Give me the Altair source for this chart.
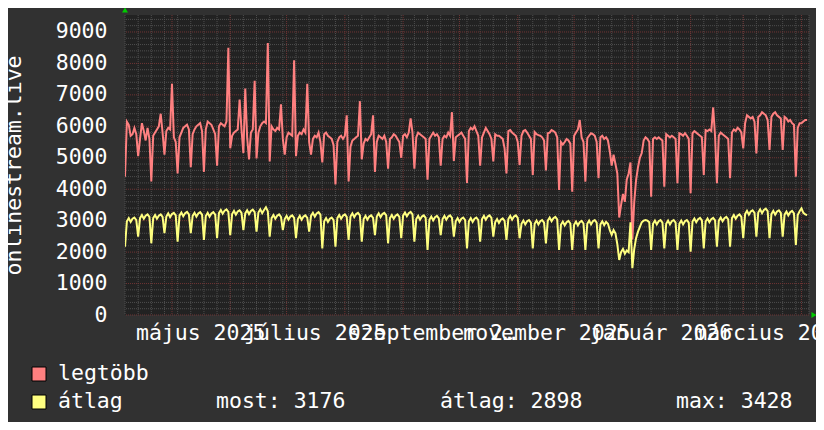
import altair as alt
import pandas as pd

# ---------------- data ----------------
start_date = "2025-04-06"

# daily maxima ("legtöbb"), one row per week
legtobb = [
    4400, 6150, 6050, 5700, 5750, 5950, 5750,
    5050, 5600, 6100, 5850, 5550, 5950, 5600,
    4250, 5700, 5800, 5900, 6000, 6400, 5800,
    5100, 5850, 5950, 5900, 7350, 5650, 5500,
    4500, 5650, 5800, 5950, 6000, 6050, 5900,
    4700, 5750, 5900, 6000, 6050, 6100, 5850,
    4550, 5900, 6150, 6100, 6050, 5900, 5750,
    4750, 6000, 6100, 6050, 6000, 6150, 8500,
    5300, 5700, 5800, 5850, 5900, 6850, 5900,
    5150, 7200, 5650, 4950, 5800, 5900, 7450,
    4980, 5800, 6000, 6100, 6150, 6100, 8650,
    4880, 6000, 5900, 5850, 5950, 5900, 6700,
    5600, 5100, 5650, 5800, 5750, 5700, 8100,
    5050, 5700, 5800, 5750, 5900, 5800, 7350,
    5500, 5100, 5600, 5700, 5650, 5800, 5500,
    4850, 5750, 5800, 5700, 5650, 5600, 5400,
    4150, 5500, 5650, 5700, 5600, 5700, 6350,
    4250, 5350, 5550, 5600, 5650, 5700, 6800,
    4950, 5450, 5600, 5550, 5650, 5750, 6350,
    4550, 5500, 5700, 5650, 5600, 5700, 5500,
    4650, 5600, 5650, 5750, 5700, 5600, 5500,
    5000, 5700, 5750, 5650, 5800, 6250, 5800,
    4650, 5650, 5800, 5750, 5700, 5650, 5600,
    4300, 5600, 5700, 5800, 5700, 5750, 5650,
    4750, 5600, 5700, 5650, 5800, 5700, 6450,
    4900, 5650, 5700, 5750, 5800, 5700, 5600,
    4200, 5850, 5950, 5900, 6000, 5850, 5700,
    4750, 5650, 5800, 5950, 5850, 5750, 5600,
    4880, 5750, 5700, 5700, 5650, 5600, 5300,
    4500, 5850, 5880, 5800, 5750, 5700, 5500,
    4770, 5700, 5850, 5880, 5800, 5700, 5600,
    4450, 5820, 5750, 5720, 5700, 5650, 5550,
    4600, 5780, 5800, 5880, 5850, 5800, 5650,
    3980, 5500, 5420, 5500, 5600, 5550, 5450,
    3920, 5700, 5800, 5900, 6200, 5650, 5500,
    4240, 5620, 5700, 5780, 5750, 5700, 5500,
    4350, 5650, 5700, 5600, 5650, 5550, 5200,
    4750, 5100, 4800, 4500, 3100, 3500, 3850,
    3600, 4300, 4500, 4850, 2400, 3600, 4300,
    4700, 5000, 5150, 5550, 5650, 5600, 5500,
    3760, 5600, 5650, 5600, 5650, 5600, 5550,
    4080, 5750, 5700, 5650, 5700, 5650, 5600,
    4190, 5780, 5750, 5700, 5780, 5700, 5600,
    3870, 5780, 5850, 5800, 5750, 5700, 5650,
    4450, 5880, 5850, 5900, 5850, 6600, 5700,
    4190, 5700, 5800, 5750, 5700, 5650, 5600,
    4350, 5800, 5900, 5850, 5950, 5900, 5800,
    5300, 6100, 6350, 6300, 6250, 6300, 6150,
    5140, 6300, 6350, 6450, 6400, 6350, 6200,
    5250, 6300, 6400, 6450, 6350, 6300, 6250,
    5250, 6300, 6250, 6150, 6200, 6100, 6050,
    4400, 5950, 6100, 6100, 6150, 6200, 6200,
]

# daily averages ("átlag"), one row per week
atlag = [
    2170, 2980, 3080, 2960, 3060, 3100, 3020,
    2490, 3080, 3180, 3060, 3160, 3200, 3120,
    2280, 3080, 3180, 3060, 3160, 3200, 3120,
    2600, 3130, 3230, 3110, 3210, 3250, 3170,
    2330, 3160, 3260, 3140, 3240, 3280, 3200,
    2600, 3150, 3250, 3130, 3230, 3270, 3190,
    2390, 3150, 3250, 3130, 3230, 3270, 3190,
    2440, 3240, 3340, 3220, 3320, 3360, 3280,
    2540, 3210, 3310, 3190, 3290, 3330, 3250,
    2700, 3230, 3330, 3210, 3310, 3350, 3270,
    2650, 3260, 3360, 3240, 3340, 3428, 3300,
    2490, 3080, 3180, 3060, 3160, 3200, 3120,
    2700, 3050, 3150, 3030, 3130, 3170, 3090,
    2440, 3050, 3150, 3030, 3130, 3170, 3090,
    2650, 3150, 3250, 3130, 3230, 3270, 3190,
    2120, 2980, 3080, 2960, 3060, 3100, 3020,
    2170, 3080, 3180, 3060, 3160, 3200, 3120,
    2390, 3130, 3230, 3110, 3210, 3250, 3170,
    2330, 3050, 3150, 3030, 3130, 3170, 3090,
    2540, 3130, 3230, 3110, 3210, 3250, 3170,
    2280, 3080, 3180, 3060, 3160, 3200, 3120,
    2440, 3160, 3260, 3140, 3240, 3280, 3200,
    2330, 3050, 3150, 3030, 3130, 3170, 3090,
    2070, 3030, 3130, 3010, 3110, 3150, 3070,
    2540, 3050, 3150, 3030, 3130, 3170, 3090,
    2490, 2980, 3080, 2960, 3060, 3100, 3020,
    2120, 2980, 3080, 2960, 3060, 3100, 3020,
    2330, 3050, 3150, 3030, 3130, 3170, 3090,
    2490, 2950, 3050, 2930, 3030, 3070, 2990,
    2390, 3050, 3150, 3030, 3130, 3170, 3090,
    2440, 2900, 3000, 2880, 2980, 3020, 2940,
    2120, 2900, 3000, 2880, 2980, 3020, 2940,
    2280, 3000, 3100, 2980, 3080, 3120, 3040,
    2070, 2870, 2970, 2850, 2950, 2990, 2910,
    2070, 2870, 2970, 2850, 2950, 2990, 2910,
    2070, 2900, 3000, 2880, 2980, 3020, 2940,
    2120, 2880, 2980, 2860, 2960, 2900, 2700,
    2550, 2700, 2600, 2250, 1750, 2000, 2100,
    1950, 2050, 2000, 2950, 1490, 2100, 2450,
    2650, 2800, 2950, 3000, 3020, 3000, 2950,
    2070, 2900, 3000, 2880, 2980, 3020, 2940,
    2120, 2900, 3000, 2880, 2980, 3020, 2940,
    2070, 2900, 3000, 2880, 2980, 3020, 2940,
    2010, 2970, 3070, 2950, 3050, 3090, 3010,
    2120, 2970, 3070, 2950, 3050, 3090, 3010,
    2170, 3000, 3100, 2980, 3080, 3120, 3040,
    2170, 3080, 3180, 3060, 3160, 3200, 3120,
    2440, 3210, 3310, 3190, 3290, 3330, 3250,
    2490, 3260, 3360, 3240, 3340, 3380, 3300,
    2440, 3210, 3310, 3190, 3290, 3330, 3250,
    2490, 3190, 3290, 3170, 3270, 3310, 3230,
    2230, 3180, 3300, 3390, 3250, 3200, 3176,
]

series_names = ["legtöbb", "átlag"]
series_colors = ["#ff8080", "#ffff80"]
stat_texts = ["most: 3176", "átlag: 2898", "max: 3428"]
y_title = "onlinestream.live"

hu_months = ["január", "február", "március", "április", "május", "június",
             "július", "augusztus", "szeptember", "október", "november", "december"]
x_label_dates = ["2025-05-16", "2025-07-16", "2025-09-16", "2025-11-16",
                 "2026-01-16", "2026-03-16"]
month_starts = ["2025-05-01", "2025-06-01", "2025-07-01", "2025-08-01",
                "2025-09-01", "2025-10-01", "2025-11-01", "2025-12-01",
                "2026-01-01", "2026-02-01", "2026-03-01", "2026-04-01"]
y_major = [0, 1000, 2000, 3000, 4000, 5000, 6000, 7000, 8000, 9000]
y_minor = [v for v in range(200, 9540, 200) if v % 1000 != 0]
y_top = 9540

# ---------------- style ----------------
FONT = "DejaVu Sans Mono"
FS = 21.5
OUTER = "#313131"
PLOT_BG = "#222222"
MINOR = "#4e4e4e"
MAJOR = "#6f3434"
W, H = 684, 300


def dt(s):
    y, m, d = (int(p) for p in s.split("-"))
    return alt.DateTime(year=y, month=m, date=d, utc=True)


dates = pd.date_range(start_date, periods=len(legtobb), freq="D")
end_date = (dates[-1] + pd.Timedelta(days=1)).strftime("%Y-%m-%d")
df = pd.DataFrame({"date": dates.strftime("%Y-%m-%d"),
                   "legtobb": legtobb, "atlag": atlag})

week_df = pd.DataFrame({"date": pd.date_range(start_date, periods=53, freq="7D").strftime("%Y-%m-%d")})
month_df = pd.DataFrame({"date": month_starts})
ymin_df = pd.DataFrame({"v": y_minor})
ymaj_df = pd.DataFrame({"v": y_major})

xscale = alt.Scale(type="utc", domain=[dt(start_date), dt(end_date)])
yscale = alt.Scale(domain=[0, y_top], nice=False, zero=True)

label_expr = ("[" + ",".join("'%s'" % m for m in hu_months) + "][utcmonth(datum.value)]"
              " + ' ' + utcyear(datum.value)")

x_axis = alt.Axis(values=[dt(s) for s in x_label_dates], labelExpr=label_expr,
                  title=None, grid=False, ticks=False, domain=False,
                  labelOverlap=False, labelBound=False, labelFlush=False,
                  labelFont=FONT, labelFontSize=FS, labelColor="#ffffff",
                  labelPadding=7)
y_axis = alt.Axis(values=y_major, format="d", title=y_title, grid=False, ticks=False,
                  domain=False, labelFont=FONT, labelFontSize=FS, labelColor="#ffffff",
                  labelPadding=18, titleFont=FONT, titleFontSize=FS,
                  titleFontWeight="normal", titleColor="#ffffff",
                  titleX=-111, titleY=150, titleAngle=-90, titleAlign="center",
                  titleBaseline="middle")


def X(field):
    return alt.X(field, scale=xscale, axis=x_axis)


def Y(field):
    return alt.Y(field, scale=yscale, axis=y_axis)


grid_minor_y = alt.Chart(ymin_df).mark_rule(color=MINOR, strokeDash=[1, 1], strokeWidth=1).encode(
    y=Y("v:Q"))
grid_minor_x = alt.Chart(week_df).mark_rule(color=MINOR, strokeDash=[1, 1], strokeWidth=1).encode(
    x=X("date:T"))
grid_major_y = alt.Chart(ymaj_df).mark_rule(color=MAJOR, strokeDash=[1, 1], strokeWidth=1).encode(
    y=Y("v:Q"))
grid_major_x = alt.Chart(month_df).mark_rule(color=MAJOR, strokeDash=[1, 1], strokeWidth=1).encode(
    x=X("date:T"))

line_max = alt.Chart(df).mark_line(color=series_colors[0], strokeWidth=2, clip=True).encode(
    x=X("date:T"), y=Y("legtobb:Q"))
line_avg = alt.Chart(df).mark_line(color=series_colors[1], strokeWidth=2, clip=True).encode(
    x=X("date:T"), y=Y("atlag:Q"))

arrow_up = alt.Chart(pd.DataFrame({"date": [start_date], "v": [y_top]})).mark_point(
    shape="triangle-up", filled=True, size=35, color="#00cc00", opacity=1, yOffset=-5).encode(
    x=X("date:T"), y=Y("v:Q"))
arrow_right = alt.Chart(pd.DataFrame({"date": [end_date], "v": [0]})).mark_point(
    shape="triangle-right", filled=True, size=35, color="#00cc00", opacity=1, xOffset=5).encode(
    x=X("date:T"), y=Y("v:Q"))

legend_layers = []
row_y = [359, 387]
for i, name in enumerate(series_names):
    ldf = pd.DataFrame({"label": [name]})
    legend_layers.append(alt.Chart(ldf).mark_square(size=196, filled=True, color=series_colors[i],
                                                    stroke="#000000", strokeWidth=1, opacity=1).encode(
        x=alt.value(-86), y=alt.value(row_y[i])))
    legend_layers.append(alt.Chart(ldf).mark_text(align="left", baseline="middle", font=FONT,
                                                  fontSize=FS, color="#ffffff").encode(
        text="label:N", x=alt.value(-67), y=alt.value(row_y[i])))
stat_x = [91, 315, 551]
for i, s in enumerate(stat_texts):
    sdf = pd.DataFrame({"label": [s]})
    legend_layers.append(alt.Chart(sdf).mark_text(align="left", baseline="middle", font=FONT,
                                                  fontSize=FS, color="#ffffff").encode(
        text="label:N", x=alt.value(stat_x[i]), y=alt.value(row_y[1])))

chart = alt.layer(grid_minor_y, grid_minor_x, grid_major_y, grid_major_x,
                  line_max, line_avg, arrow_up, arrow_right, *legend_layers).properties(
    width=W, height=H,
    autosize=alt.AutoSizeParams(type="none"),
    padding={"left": 117, "top": 7, "right": 7, "bottom": 107},
    usermeta={"embedOptions": {"defaultStyle": "html,body{background:%s;}" % OUTER}},
).configure(background=OUTER).configure_view(fill=PLOT_BG, stroke=None)

chart.save("out.html", embed_options={"renderer": "svg", "actions": False})
